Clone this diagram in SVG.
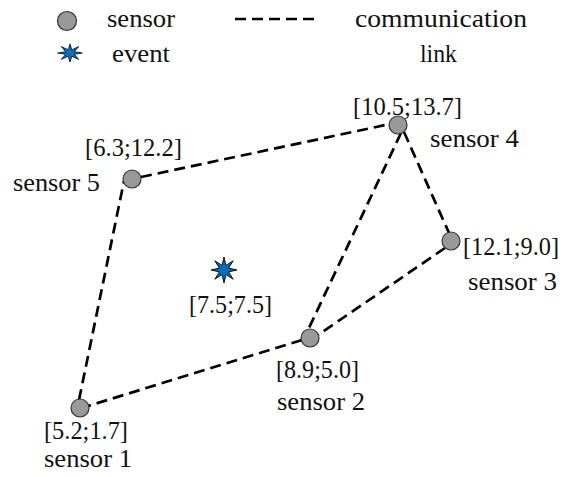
<svg xmlns="http://www.w3.org/2000/svg" width="564" height="477" viewBox="0 0 564 477">
  <style>
    text { font-family: 'Liberation Serif', 'Times New Roman', serif; font-size: 25px; fill: #111; }
    .sensor { fill: #999999; stroke: #333333; stroke-width: 1.2; }
    .link { stroke: #000; stroke-width: 2.7; stroke-dasharray: 11 6; fill: none; }
    .event { fill: #0A6EBD; stroke: #000; stroke-width: 0.9; }
  </style>
  <defs>
    <path id="star" d="M0,-13 L1.91,-4.62 L9.19,-9.19 L4.62,-1.91 L13,0 L4.62,1.91 L9.19,9.19 L1.91,4.62 L0,13 L-1.91,4.62 L-9.19,9.19 L-4.62,1.91 L-13,0 L-4.62,-1.91 L-9.19,-9.19 L-1.91,-4.62 Z"/>
  </defs>
  <rect width="564" height="477" fill="#fff"/>

  <!-- legend -->
  <g id="legend">
    <circle class="sensor" cx="67" cy="21" r="9.5"/>
    <text x="107" y="27" textLength="68" lengthAdjust="spacingAndGlyphs">sensor</text>
    <use href="#star" class="event" transform="translate(70,53) scale(0.95,0.7)"/>
    <text x="112" y="62" textLength="58" lengthAdjust="spacingAndGlyphs">event</text>
    <line class="link" x1="235" y1="19" x2="320" y2="19"/>
    <text x="355" y="27" textLength="172" lengthAdjust="spacingAndGlyphs">communication</text>
    <text x="420" y="62" textLength="37" lengthAdjust="spacingAndGlyphs">link</text>
  </g>

  <!-- connectors -->
  <g id="links">
    <line class="link" x1="79" y1="400" x2="124" y2="181"/>
    <line class="link" x1="141" y1="177" x2="390" y2="124"/>
    <line class="link" x1="401" y1="133" x2="308" y2="330"/>
    <line class="link" x1="404" y1="132" x2="449" y2="233"/>
    <line class="link" x1="445" y1="248" x2="318" y2="335"/>
    <line class="link" x1="302" y1="340" x2="88" y2="406"/>
  </g>

  <!-- sensors -->
  <g id="sensor1">
    <circle class="sensor" cx="80" cy="408" r="9"/>
    <text x="44" y="439" textLength="84" lengthAdjust="spacingAndGlyphs">[5.2;1.7]</text>
    <text x="44" y="467" textLength="88" lengthAdjust="spacingAndGlyphs">sensor 1</text>
  </g>
  <g id="sensor2">
    <circle class="sensor" cx="310" cy="338" r="9"/>
    <text x="276" y="378" textLength="83" lengthAdjust="spacingAndGlyphs">[8.9;5.0]</text>
    <text x="277" y="410" textLength="88" lengthAdjust="spacingAndGlyphs">sensor 2</text>
  </g>
  <g id="sensor3">
    <circle class="sensor" cx="451" cy="241" r="9"/>
    <text x="463" y="255" textLength="96" lengthAdjust="spacingAndGlyphs">[12.1;9.0]</text>
    <text x="468" y="290" textLength="89" lengthAdjust="spacingAndGlyphs">sensor 3</text>
  </g>
  <g id="sensor4">
    <circle class="sensor" cx="398" cy="125" r="9"/>
    <text x="353" y="115" textLength="109" lengthAdjust="spacingAndGlyphs">[10.5;13.7]</text>
    <text x="430" y="147" textLength="89" lengthAdjust="spacingAndGlyphs">sensor 4</text>
  </g>
  <g id="sensor5">
    <circle class="sensor" cx="132" cy="179" r="9"/>
    <text x="85" y="156" textLength="97" lengthAdjust="spacingAndGlyphs">[6.3;12.2]</text>
    <text x="13" y="191" textLength="87" lengthAdjust="spacingAndGlyphs">sensor 5</text>
  </g>

  <!-- event -->
  <g id="event">
    <use href="#star" class="event" transform="translate(224,270)"/>
    <text x="189" y="313" textLength="83" lengthAdjust="spacingAndGlyphs">[7.5;7.5]</text>
  </g>
</svg>
